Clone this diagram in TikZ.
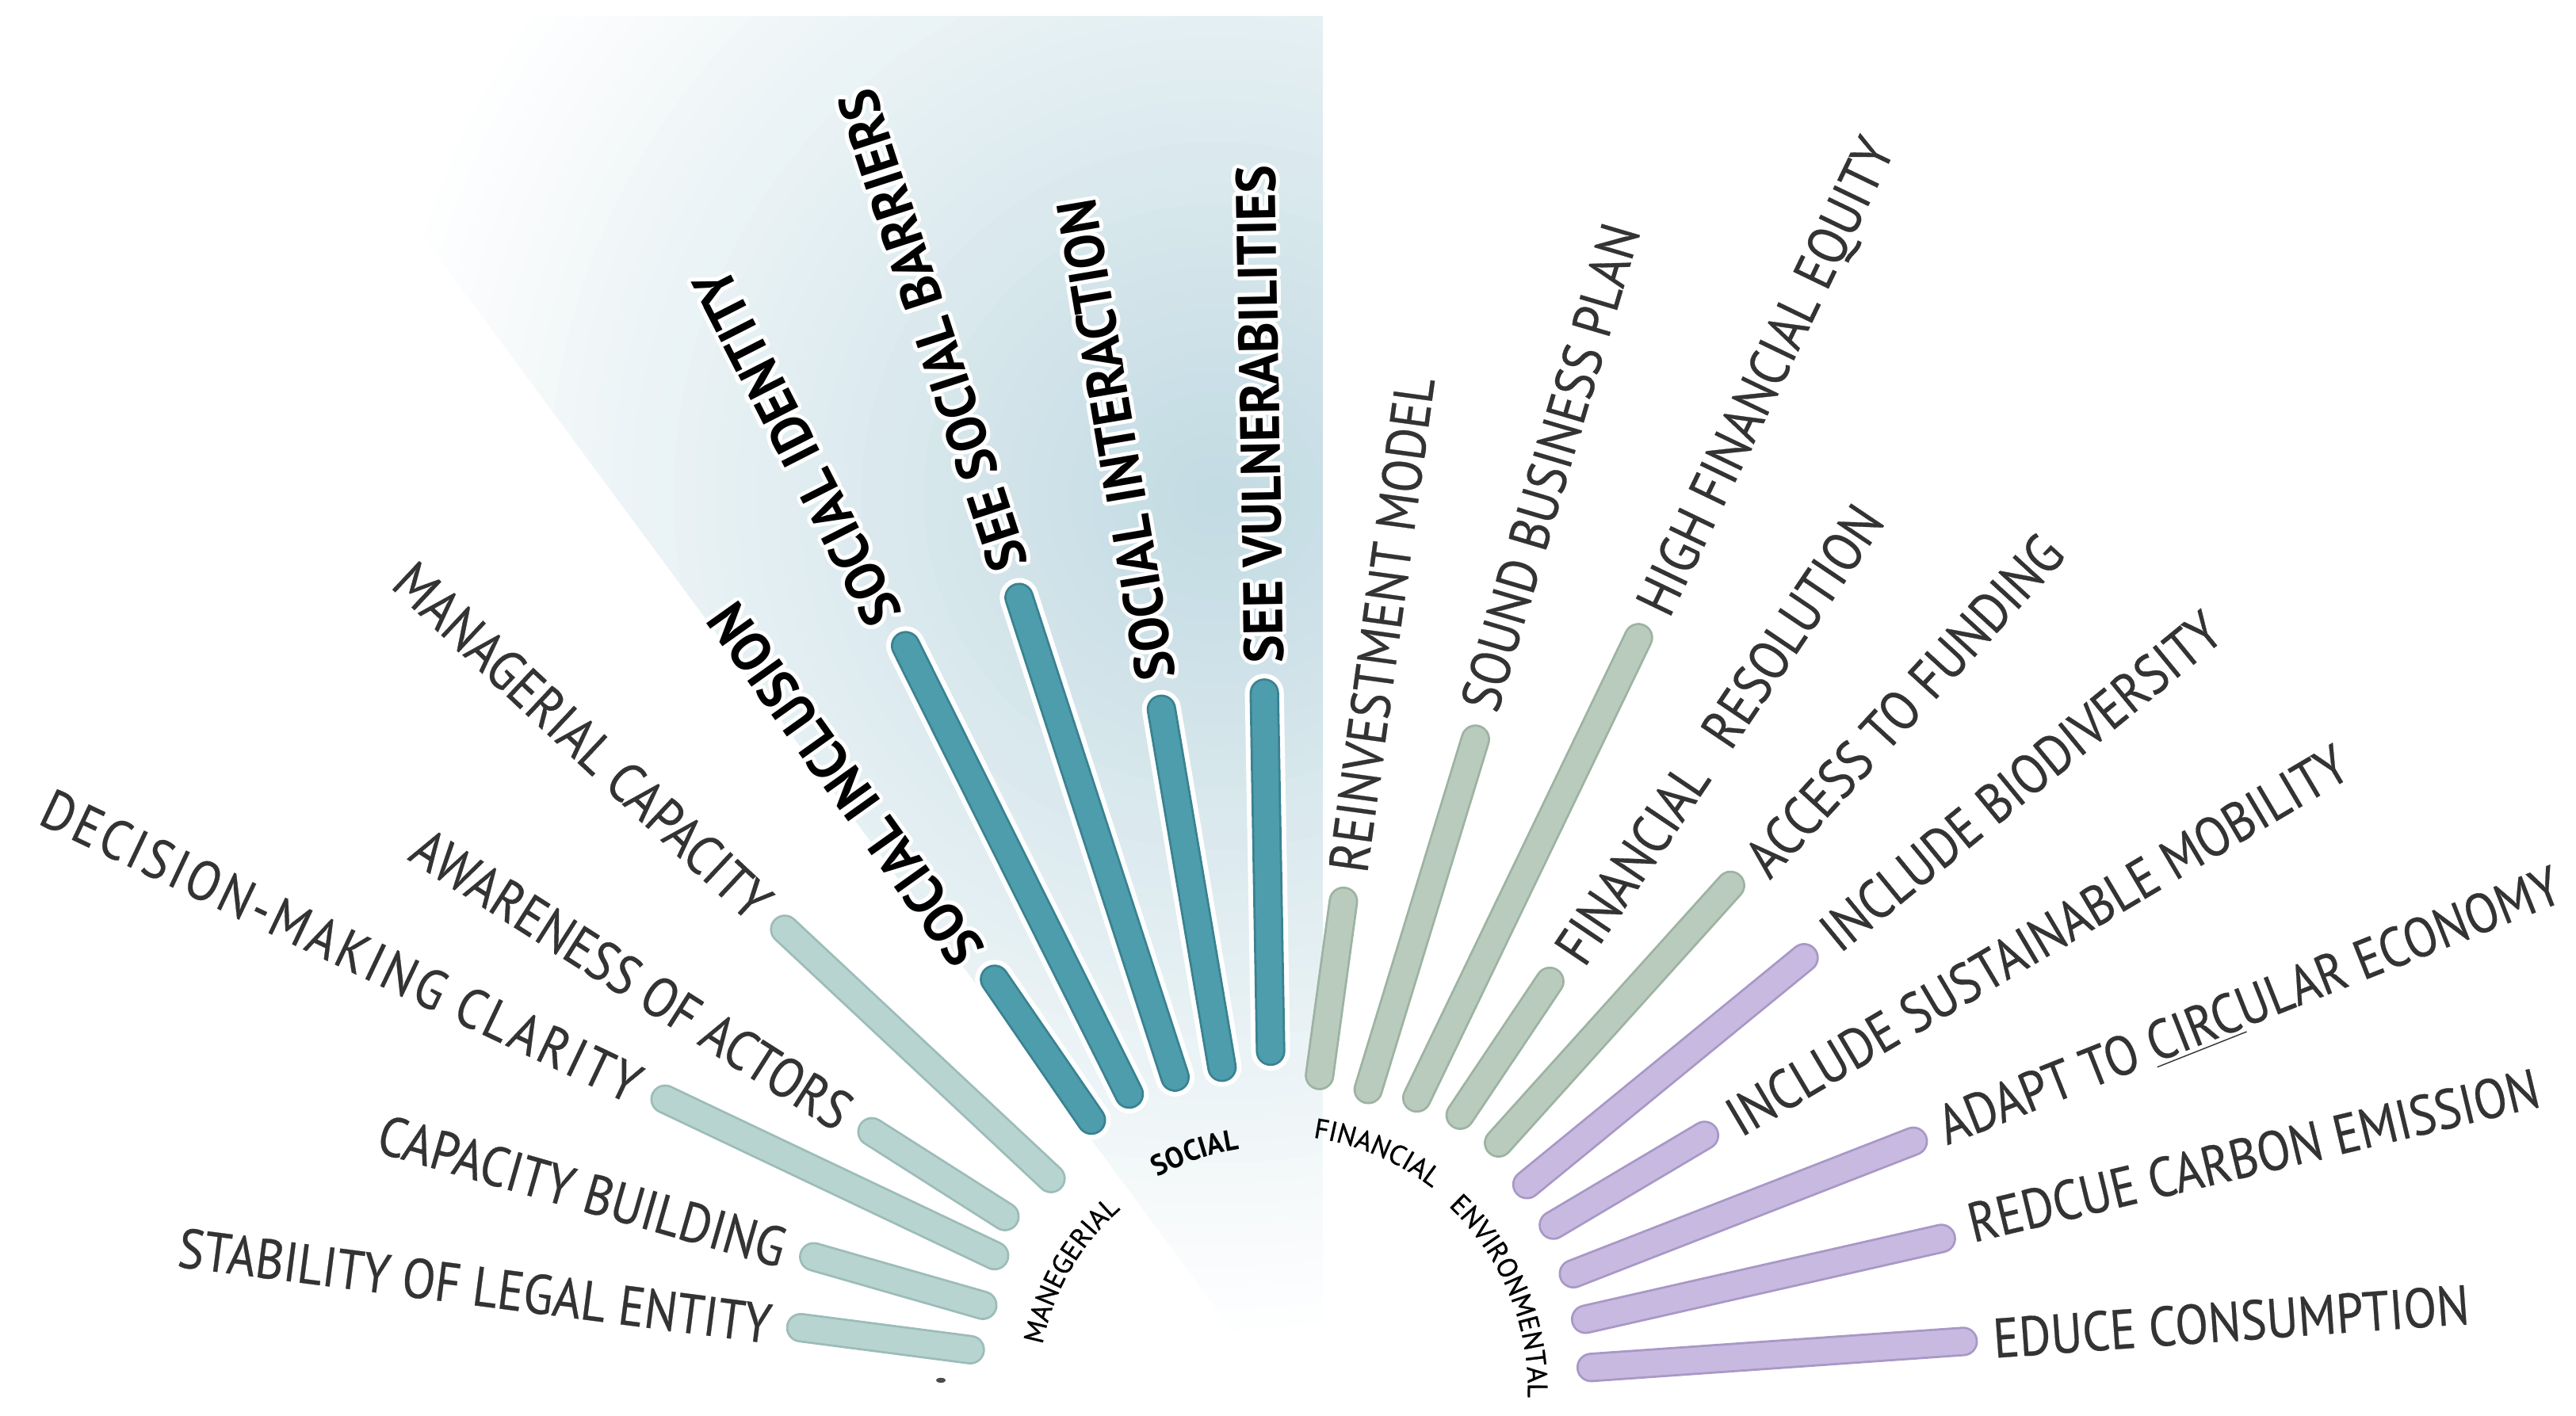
\documentclass[tikz,border=0pt]{standalone}
\usepackage{fontspec}
\setmainfont{PT Sans}
\newfontfamily\regfont{PT Sans}[FakeStretch=0.87, FakeBold=0.4]
\newfontfamily\boldfont{PT Sans}[FakeStretch=0.94]
\newfontfamily\catfont{PT Sans}[FakeBold=0.8]
\usepackage{contour}
\contourlength{1.4pt}
\usetikzlibrary{calc,decorations.text}
\definecolor{mfill}{HTML}{B8D4D0}
\definecolor{mline}{HTML}{9CBCB8}
\definecolor{sfill}{HTML}{4E9DAC}
\definecolor{sline}{HTML}{3A8291}
\definecolor{ffill}{HTML}{B9CBBD}
\definecolor{fline}{HTML}{9DB3A2}
\definecolor{efill}{HTML}{C7B9E0}
\definecolor{eline}{HTML}{A898C6}
\definecolor{txt}{HTML}{333333}
\definecolor{glow}{HTML}{C3DBE3}
\newcommand\catfmt{\catfont\fontsize{10}{11}\selectfont}
\newcommand\catfmtb{\boldfont\fontsize{10.5}{11}\selectfont\bfseries}
% bar: name, angle, r_in, r_out, style
\newcommand\rbar[5]{%
  \draw[#5] ($(C)+(#2:#3)$) coordinate (#1i) -- ($(C)+(#2:#4)$) coordinate (#1o);}
% outward label: name, angle, r_out, style, text
\newcommand\outlab[5]{%
  \pgfmathsetmacro\rr{#3+18}%
  \node[#4, anchor=west, rotate=#2] (#1) at ($(C)+(#2:\rr)$) {#5};}
% inward label
\newcommand\inlab[5]{%
  \pgfmathsetmacro\rr{#3+18}%
  \node[#4, anchor=east, rotate=#2-180] (#1) at ($(C)+(#2:\rr)$) {#5};}
\begin{document}
\begin{tikzpicture}[x=0.020727cm,y=0.020727cm,
  lab/.style={inner sep=0pt, text depth=0pt, font=\regfont\fontsize{20}{22}\selectfont, text=txt},
  slab/.style={inner sep=0pt, text depth=0pt, font=\boldfont\fontsize{20}{22}\selectfont\bfseries, text=black},
  barM/.style={line cap=round, draw=mline, line width=0.8pt, double=mfill, double distance=9pt},
  barS/.style={line cap=round, draw=sline, line width=0.8pt, double=sfill, double distance=9pt},
  barF/.style={line cap=round, draw=fline, line width=0.8pt, double=ffill, double distance=9pt},
  barE/.style={line cap=round, draw=eline, line width=0.8pt, double=efill, double distance=9pt},
  halo/.style={line cap=round, draw=white, line width=14pt}]
\useasboundingbox (0,0) rectangle (1568,862);
\coordinate (C) at (777,16);
\coordinate (G) at (740,560);
% glow behind the social group (stepped radial gradient)
\begin{scope}
  \clip (C) -- ++(126.5:1040) -- (805,852) -- (805,16) -- cycle;
  \foreach \i in {0,...,40} {
    \pgfmathsetmacro\rad{520*(1-\i/41)}
    \pgfmathsetmacro\pc{\i*100/40}
    \fill[glow!\pc!white] (G) circle (\rad);
  }
\end{scope}
% social halos
\foreach \a/\ri/\ro in {124.5/199/303,116.5/201/506,108/200/507,99.6/199/420,91/206/424}
  \draw[halo] ($(C)+(\a:\ri)$) -- ($(C)+(\a:\ro)$);
% managerial
\rbar{b1}{172.6}{188}{292}{barM}
\rbar{b2}{164}{186}{293}{barM}
\rbar{b3}{154.6}{190}{412}{barM}
\rbar{b4}{147.5}{196}{292}{barM}
\rbar{b5}{136.9}{188}{410}{barM}
% social
\rbar{b6}{124.5}{199}{303}{barS}
\rbar{b7}{116.5}{201}{506}{barS}
\rbar{b8}{108}{200}{507}{barS}
\rbar{b9}{99.6}{199}{420}{barS}
\rbar{b10}{91}{206}{424}{barS}
% financial
\rbar{b11}{82.2}{193}{300}{barF}
\rbar{b12}{73}{191}{414}{barF}
\rbar{b13}{64.3}{197}{508}{barF}
\rbar{b14}{56.2}{201}{299}{barF}
\rbar{b15}{48}{202}{413}{barF}
% environmental
\rbar{b16}{39.3}{197}{415}{barE}
\rbar{b17}{30.7}{196}{303}{barE}
\rbar{b18}{21.3}{194}{416}{barE}
\rbar{b19}{12.8}{193}{415}{barE}
\rbar{b20}{4}{192}{419}{barE}
% labels
\inlab{l1}{172.6}{292}{lab}{STABILITY OF LEGAL ENTITY}
\inlab{l2}{164}{293}{lab}{CAPACITY BUILDING}
\inlab{l3}{154.6}{412}{lab}{\addfontfeatures{LetterSpace=6}DECISION-MAKING CLARITY}
\inlab{l4}{147.5}{292}{lab}{AWARENESS OF ACTORS}
\inlab{l5}{136.9}{410}{lab}{MANAGERIAL CAPACITY}
\outlab{l6}{125.5}{303}{slab}{\contour{white}{SOCIAL INCLUSION}}
\outlab{l7}{117}{506}{slab}{\contour{white}{SOCIAL IDENTITY}}
\outlab{l8}{108}{507}{slab}{\contour{white}{SEE SOCIAL BARRIERS}}
\outlab{l9}{99.6}{420}{slab}{\contour{white}{SOCIAL INTERACTION}}
\outlab{l10}{91}{424}{slab}{\contour{white}{SEE VULNERABILITIES}}
\outlab{l11}{82.2}{300}{lab}{REINVESTMENT MODEL}
\outlab{l12}{73.5}{414}{lab}{SOUND BUSINESS PLAN}
\outlab{l13}{64.3}{508}{lab}{HIGH FINANCIAL EQUITY}
\outlab{l14}{56}{299}{lab}{FINANCIAL\hspace{0.6em}RESOLUTION}
\outlab{l15}{47.5}{413}{lab}{ACCESS TO FUNDING}
\outlab{l16}{39.3}{415}{lab}{INCLUDE BIODIVERSITY}
\outlab{l17}{30.6}{303}{lab}{INCLUDE SUSTAINABLE MOBILITY}
\outlab{l18}{21.6}{416}{lab}{ADAPT TO \underline{CIRC}ULAR ECONOMY}
\outlab{l19}{13.5}{415}{lab}{REDCUE CARBON EMISSION}
\outlab{l20}{4.1}{419}{lab}{EDUCE CONSUMPTION}
% category labels along the arc
\path[decorate, decoration={text along path, text align=center, text={|\catfmt|MANEGERIAL}}]
  ($(C)+(176:145)$) arc[start angle=176, end angle=124, radius=145];
\path[decorate, decoration={text along path, text align=center, text={|\catfmtb|SOCIAL}}]
  ($(C)+(126:148)$) arc[start angle=126, end angle=92, radius=148];
\path[decorate, decoration={text along path, text align=center, text={|\catfmt|FINANCIAL}}]
  ($(C)+(88:155)$) arc[start angle=88, end angle=46, radius=155];
\path[decorate, decoration={text along path, text align=center, text={|\catfmt|ENVIRONMENTAL}}]
  ($(C)+(50:153)$) arc[start angle=50, end angle=-5, radius=153];
% stray mark
\fill[black!70] (572.7,21.6) ellipse (3 and 1.5);
\end{tikzpicture}
\end{document}
